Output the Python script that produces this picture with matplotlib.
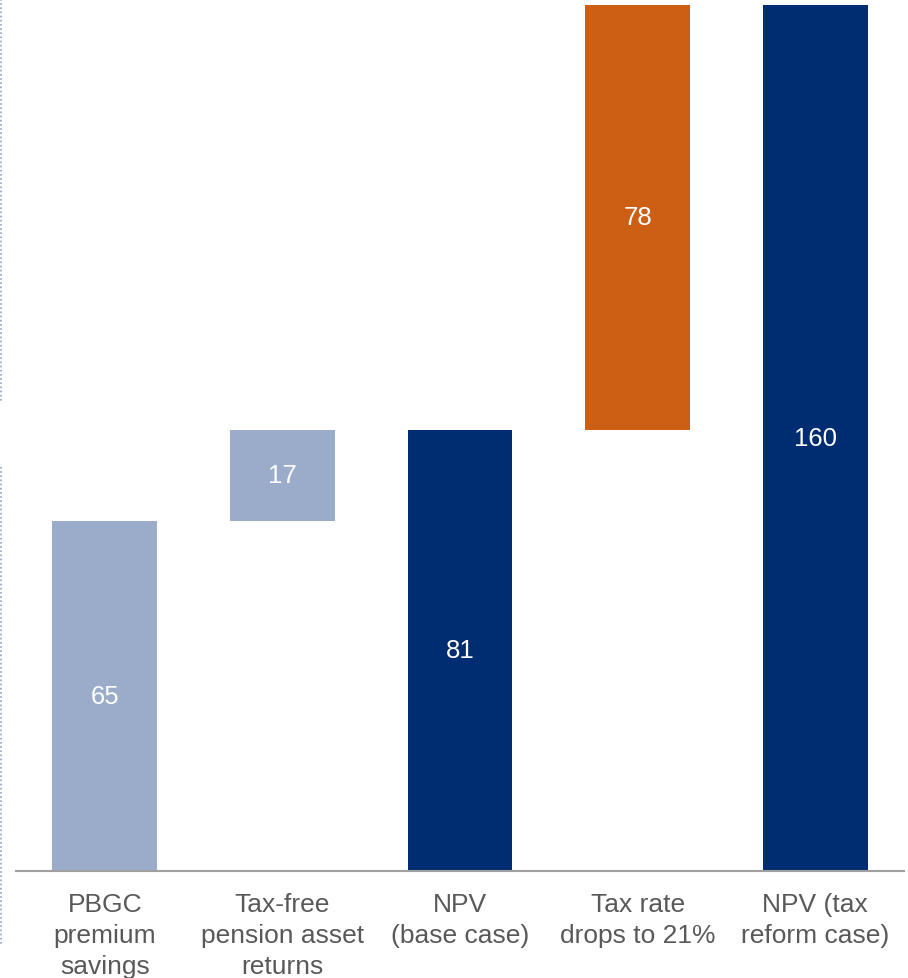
import matplotlib as mpl
mpl.use('Agg')
from matplotlib import pyplot as plt
from matplotlib.lines import Line2D

categories = ['PBGC\npremium\nsavings', 'Tax-free\npension asset\nreturns',
              'NPV\n(base case)', 'Tax rate\ndrops to 21%', 'NPV (tax\nreform case)']
values = [64.6, 16.8, 81.4, 78.4, 159.8]
is_total = [False, False, True, False, True]
labels = ['65', '17', '81', '78', '160']

light_blue = '#9AACC9'
navy = '#002D72'
orange = '#CC5F14'
bar_colors = [light_blue, light_blue, navy, orange, navy]

plt.rcParams['font.family'] = ['Liberation Sans', 'DejaVu Sans']

fig = plt.figure(figsize=(9.08, 9.79), dpi=100)
ax = fig.add_axes([16 / 908, 107 / 979, 888 / 908, 866 / 979])

# waterfall bottoms
bottoms = []
running = 0
for v, tot in zip(values, is_total):
    if tot:
        bottoms.append(0)
        running = v
    else:
        bottoms.append(running)
        running += v

x = list(range(len(values)))
ax.bar(x, values, bottom=bottoms, width=0.59, color=bar_colors)
for xi, v, b, lab in zip(x, values, bottoms, labels):
    ax.text(xi, b + v / 2, lab, ha='center', va='center', color='white', fontsize=18.5)

ax.set_xlim(-0.5, 4.5)
ax.set_ylim(0, 159.8)
ax.set_xticks(x)
ax.set_xticklabels(categories, fontsize=19, color='#595959', linespacing=1.36)
ax.tick_params(axis='x', length=0, pad=15)
ax.set_yticks([])
for s in ['top', 'right', 'left']:
    ax.spines[s].set_visible(False)
ax.spines['bottom'].set_color('#A0A0A0')
ax.spines['bottom'].set_linewidth(1.5)

# dotted border at the left edge of the slide
for y0, y1 in [(0, 404), (468, 947)]:
    fig.add_artist(Line2D([1 / 908, 1 / 908], [1 - y0 / 979, 1 - y1 / 979],
                          transform=fig.transFigure, color='#8FA3C8',
                          linestyle=(0, (1, 1.5)), linewidth=1.2))

fig.savefig('out.png', dpi=100)
